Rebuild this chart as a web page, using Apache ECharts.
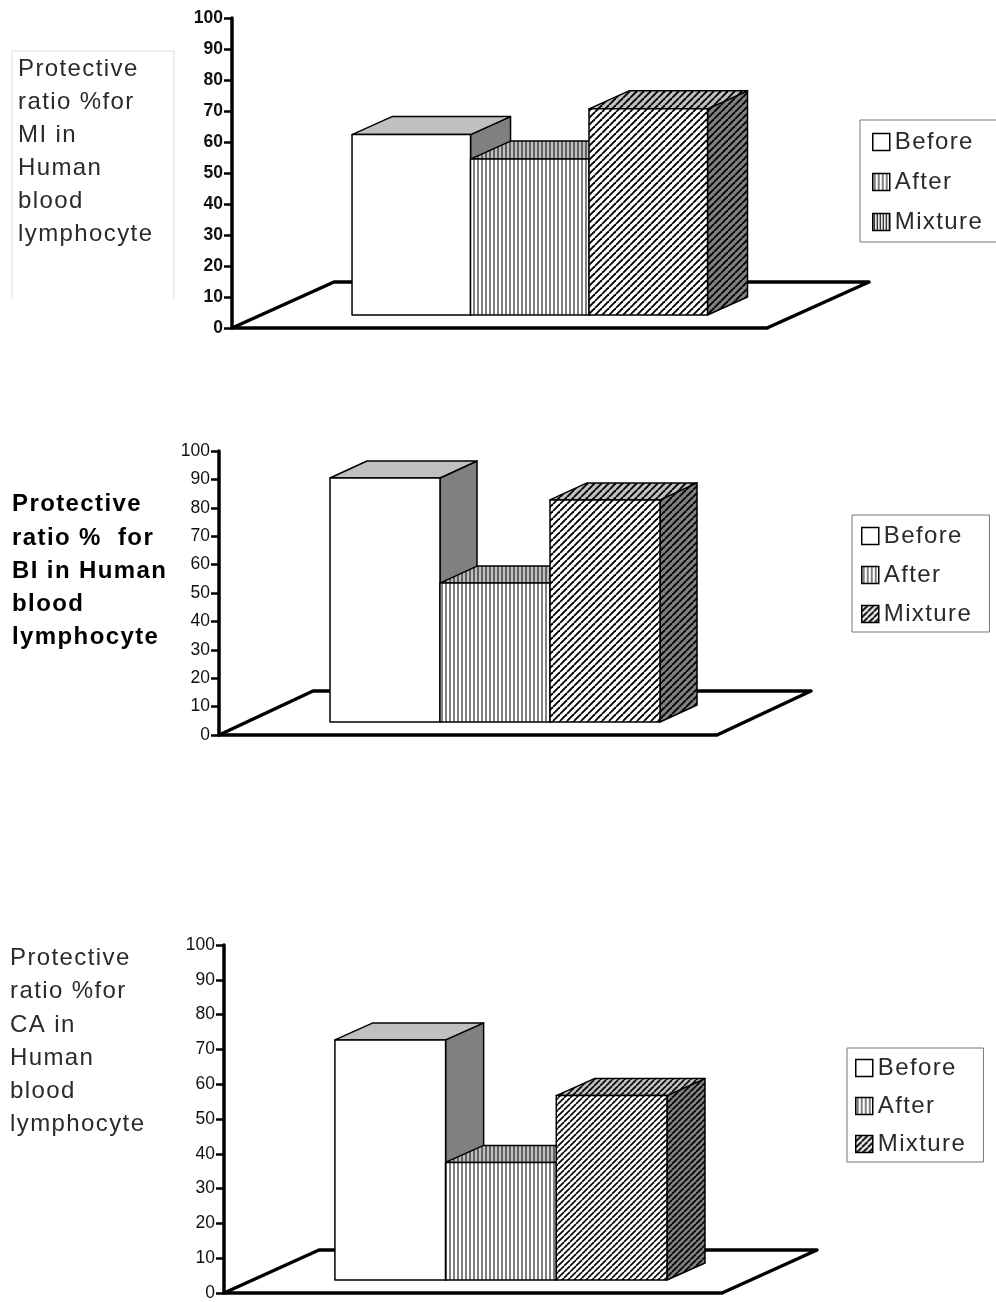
<!DOCTYPE html>
<html>
<head>
<meta charset="utf-8">
<style>html,body{margin:0;padding:0;background:#fff}#c{width:996px;height:1302px}</style>
<script src="https://cdn.jsdelivr.net/npm/echarts@6/dist/echarts.min.js"></script>
</head>
<body>
<div id="c"></div>
<script>
// ---- data ----
const categories = ['Before', 'After', 'Mixture'];
const miValues = [58.2, 50.3, 66.5];
const biValues = [85.9, 48.9, 78.2];
const caValues = [69.0, 33.8, 53.0];
const yTicks = [0, 10, 20, 30, 40, 50, 60, 70, 80, 90, 100];
const miTitle = 'Protective\nratio %for\nMI in\nHuman\nblood\nlymphocyte';
const biTitle = 'Protective\nratio %  for\nBI in Human\nblood\nlymphocyte';
const caTitle = 'Protective\nratio %for\nCA in\nHuman\nblood\nlymphocyte';

// The source text is letter-spaced: apply this to the large labels only.
const origFill = CanvasRenderingContext2D.prototype.fillText;
CanvasRenderingContext2D.prototype.fillText = function (t, x, y, m) {
  if ('letterSpacing' in this) this.letterSpacing = /\b24px/.test(this.font) ? '1.4px' : '0px';
  return m === undefined ? origFill.call(this, t, x, y) : origFill.call(this, t, x, y, m);
};

function tile(bg, kind, p, w, col) {
  const c = document.createElement('canvas');
  c.width = c.height = p;
  const g = c.getContext('2d');
  g.fillStyle = bg; g.fillRect(0, 0, p, p);
  g.strokeStyle = col || '#000'; g.lineWidth = w;
  if (kind === 'v') {
    g.beginPath(); g.moveTo(p / 2, 0); g.lineTo(p / 2, p); g.stroke();
  } else {
    [-p, 0, p].forEach(o => { g.beginPath(); g.moveTo(o, p); g.lineTo(o + p, 0); g.stroke(); });
  }
  return { image: c, repeat: 'repeat' };
}

function faces(hatch, vp, vw) {
  return [
    { front: '#fff', top: '#c0c0c0', side: '#808080' },
    { front: tile('#fff', 'v', vp, vw), top: tile('#c0c0c0', 'v', vp, vw), side: tile('#808080', 'v', vp, vw) },
    { front: tile('#fff', 'd', hatch[0], hatch[1]), top: tile('#c0c0c0', 'd', hatch[0], hatch[1]), side: tile('#808080', 'd', hatch[0], hatch[1]) }
  ];
}

const charts = [
  { values: miValues, title: miTitle, bold: false, tickBold: true, tLeft: 18, tTop: 53, lh: 33,
    grid: { left: 232, top: 18, width: 535, height: 310 }, xMin: -1.013, xMax: 3.502,
    lift: 13, dx: 40, dy: 18, fdx: 102, fdy: 46, gap: 16,
    face: faces([7, 1.9], 4, 1),
    legend: { left: 860, top: 120, padding: [10, 40, 8, 12] },
    legendMix: tile('#fff', 'v', 3, 1.2) },
  { values: biValues, title: biTitle, bold: true, tickBold: false, tLeft: 12, tTop: 488, lh: 33.25,
    grid: { left: 219, top: 451, width: 498, height: 284 }, xMin: -1.009, xMax: 3.518,
    lift: 13, dx: 37, dy: 17, fdx: 94, fdy: 44, gap: 15,
    face: faces([7, 1.9], 4, 1),
    legend: { left: 852, top: 515, padding: [9, 27, 6, 9] },
    legendMix: tile('#fff', 'd', 6, 2) },
  { values: caValues, title: caTitle, bold: false, tickBold: false, tLeft: 10, tTop: 942, lh: 33.2,
    grid: { left: 224, top: 945, width: 498, height: 349 }, xMin: -1.002, xMax: 3.497,
    lift: 13, dx: 38, dy: 17, fdx: 95, fdy: 43, gap: 14,
    face: faces([6, 1.6], 4, 1),
    legend: { left: 847, top: 1048, padding: [8, 27, 6, 8] },
    legendMix: tile('#fff', 'd', 6, 2) }
];

const option = {
  animation: false,
  backgroundColor: '#fff',
  title: [], grid: [], xAxis: [], yAxis: [], legend: [], series: [],
  graphic: [{
    type: 'polyline', silent: true,
    shape: { points: [[12, 299], [12, 51], [174, 51], [174, 299]] },
    style: { fill: 'none', stroke: '#dcdcdc', lineWidth: 1 }
  }]
};

charts.forEach((ch, gi) => {
  option.title.push({
    text: ch.title, left: ch.tLeft, top: ch.tTop, padding: 0,
    textStyle: { fontFamily: 'Liberation Sans', fontSize: 24, lineHeight: ch.lh,
      fontWeight: ch.bold ? 'bold' : 'normal', color: ch.bold ? '#000' : '#2a2a2a' }
  });
  option.grid.push(ch.grid);
  option.xAxis.push({
    gridIndex: gi, type: 'value', min: ch.xMin, max: ch.xMax,
    axisLabel: { show: false }, axisTick: { show: false }, splitLine: { show: false },
    axisLine: { show: true, onZero: false, lineStyle: { color: '#000', width: 3.5 } }
  });
  option.yAxis.push({
    gridIndex: gi, type: 'value', min: yTicks[0], max: yTicks[yTicks.length - 1], interval: yTicks[1] - yTicks[0],
    splitLine: { show: false },
    axisLine: { show: true, onZero: false, lineStyle: { color: '#000', width: 3.5 } },
    axisTick: { show: true, length: 8, lineStyle: { color: '#000', width: 2.5 } },
    axisLabel: { margin: 9, fontFamily: 'Liberation Sans', fontSize: 17.5,
      fontWeight: ch.tickBold ? 'bold' : 'normal', color: '#111' }
  });
  option.legend.push(Object.assign({
    orient: 'vertical', itemWidth: 17, itemHeight: 17, itemGap: ch.gap,
    borderColor: '#777', borderWidth: 1, backgroundColor: '#fff', selectedMode: false,
    textStyle: { fontFamily: 'Liberation Sans', fontSize: 24, color: '#2a2a2a' },
    data: categories.map((n, i) => ({
      name: n, icon: 'rect',
      itemStyle: { color: i === 2 ? ch.legendMix : ch.face[i].front, borderColor: '#000', borderWidth: 1.5 }
    }))
  }, ch.legend));

  // floor outline: back edges of the 3D floor behind the bars
  option.series.push({
    type: 'custom', xAxisIndex: gi, yAxisIndex: gi, silent: true,
    data: [[ch.xMin, 0, ch.xMax]],
    renderItem(params, api) {
      const a = api.coord([api.value(0), 0]);
      const b = api.coord([api.value(2), 0]);
      return {
        type: 'polyline',
        shape: { points: [a, [a[0] + ch.fdx, a[1] - ch.fdy], [b[0] + ch.fdx, b[1] - ch.fdy], b] },
        style: { fill: 'none', stroke: '#000', lineWidth: 3.5, lineJoin: 'round' }
      };
    }
  });

  categories.forEach((name, i) => {
    const f = ch.face[i];
    option.series.push({
      type: 'custom', name, xAxisIndex: gi, yAxisIndex: gi,
      data: [[i, ch.values[i]]],
      renderItem(params, api) {
        const s = api.value(0), v = api.value(1);
        const l = api.coord([s, 0])[0], r = api.coord([s + 1, 0])[0];
        const b = api.coord([s, 0])[1] - ch.lift, t = api.coord([s, v])[1] - ch.lift;
        const line = { stroke: '#000', lineWidth: 1.5, lineJoin: 'round' };
        return {
          type: 'group',
          children: [
            { type: 'polygon', shape: { points: [[r, t], [r + ch.dx, t - ch.dy], [r + ch.dx, b - ch.dy], [r, b]] },
              style: Object.assign({ fill: f.side }, line) },
            { type: 'polygon', shape: { points: [[l, t], [l + ch.dx, t - ch.dy], [r + ch.dx, t - ch.dy], [r, t]] },
              style: Object.assign({ fill: f.top }, line) },
            { type: 'polygon', shape: { points: [[l, t], [r, t], [r, b], [l, b]] },
              style: Object.assign({ fill: f.front }, line) }
          ]
        };
      }
    });
  });
});

echarts.init(document.getElementById('c'), null, { renderer: 'canvas' }).setOption(option);
</script>
</body>
</html>
